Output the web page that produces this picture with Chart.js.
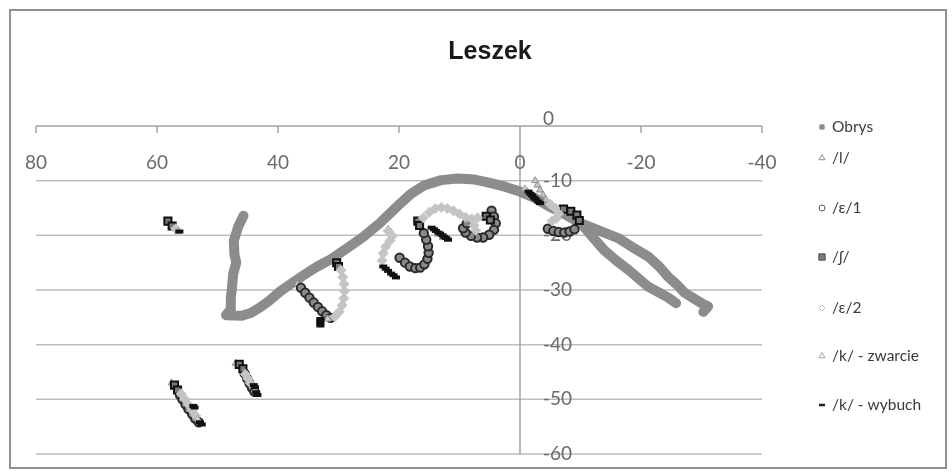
<!DOCTYPE html>
<html>
<head>
<meta charset="utf-8">
<script src="https://cdn.jsdelivr.net/npm/chart.js@4.4.1/dist/chart.umd.min.js"></script>
<style>
  body { margin: 0; background: #fff; }
  #wrap { width: 952px; height: 472px; position: relative; }
</style>
</head>
<body>
<div id="wrap"><canvas id="chart"></canvas></div>
<script>
// tick labels
const xTicks = [80, 60, 40, 20, 0, -20, -40];
const yTicks = [0, -10, -20, -30, -40, -50, -60];

// palate outline (null = break between the two back branches)
const obrys = [
  [45.7, -16.4], [46.6, -18.5], [47.3, -21.0], [47.2, -23.5], [46.9, -25.0], [47.4, -27.0],
  [47.6, -29.5], [47.8, -31.5], [47.8, -33.5], [48.6, -34.6], [46.0, -34.7], [44.5, -34.2],
  [43.0, -33.2], [41.5, -32.0], [39.6, -30.2], [37.5, -28.6], [35.5, -27.1], [33.5, -25.7],
  [31.3, -24.4], [28.5, -22.3], [25.8, -20.2], [23.0, -17.6], [20.2, -14.6], [18.0, -12.4],
  [15.9, -10.9], [13.0, -9.9], [10.3, -9.6], [7.5, -9.8], [5.3, -10.3], [2.5, -11.1],
  [0.0, -12.0], [-2.5, -13.2], [-4.6, -14.6], [-7.5, -16.2], [-10.1, -17.8], [-12.0, -20.3],
  [-13.9, -22.7], [-15.9, -24.6], [-17.9, -26.3], [-19.6, -27.9], [-21.2, -29.4], [-23.0, -30.5],
  [-24.5, -31.4], [-25.8, -32.4],
  null,
  [-10.1, -17.8], [-13.0, -19.1], [-16.2, -20.5], [-18.8, -22.3], [-21.2, -23.9], [-23.0, -25.7],
  [-24.5, -27.6], [-26.0, -29.1], [-27.2, -30.5], [-28.8, -31.6], [-30.0, -32.4], [-31.1, -33.0],
  [-30.3, -34.0]
];

const l = [
  [36.8, -28.9], [36.4, -29.4], [21.8, -18.9], [21.3, -19.5], [-2.5, -10.0], [-2.9, -10.8],
  [-3.3, -11.7], [-3.8, -12.6], [-4.3, -13.5], [57.9, -17.6], [47.0, -43.4], [57.6, -47.0]
];

const eps1 = [
  [36.2, -29.6], [35.5, -30.5], [34.8, -31.4], [34.1, -32.3], [33.4, -33.1], [32.7, -33.9],
  [32.0, -34.6], [31.3, -35.1],
  [19.9, -24.1], [19.0, -25.0], [18.2, -25.7], [17.3, -26.0], [16.5, -25.9], [15.8, -25.3],
  [15.3, -24.3], [15.1, -23.2], [15.2, -22.0], [15.5, -20.8], [15.9, -19.6],
  [4.7, -15.5], [4.3, -16.6], [4.0, -17.8], [4.3, -19.0], [5.1, -19.9], [6.1, -20.4],
  [7.1, -20.4], [8.1, -20.1], [9.0, -19.5], [9.4, -18.7], [8.8, -17.8],
  [-4.6, -18.8], [-5.5, -19.2], [-6.4, -19.4], [-7.3, -19.5], [-8.2, -19.3], [-9.0, -18.9],
  [56.2, -49.2], [55.8, -50.0], [55.3, -50.9], [54.8, -51.8], [54.2, -52.7], [53.7, -53.5],
  [53.1, -54.2],
  [45.5, -45.3], [45.1, -46.2], [44.7, -47.1], [44.3, -47.9], [43.9, -48.6]
];

const sz = [
  [58.2, -17.4], [57.5, -18.3], [30.3, -25.0], [30.0, -25.7], [16.9, -17.4], [16.6, -18.2],
  [5.6, -16.5], [4.9, -17.2], [-7.2, -15.2], [-8.4, -15.6], [-9.4, -16.3], [-9.8, -17.3],
  [57.1, -47.4], [56.6, -48.3], [46.4, -43.6], [45.8, -44.4]
];

const eps2 = [
  [29.6, -26.4], [29.3, -27.6], [29.1, -28.9], [29.0, -30.2], [29.1, -31.5], [29.4, -32.8],
  [29.9, -34.0], [30.6, -34.9],
  [21.8, -19.2], [21.1, -20.1], [21.5, -21.0], [22.2, -22.1], [22.6, -23.3], [22.8, -24.6],
  [16.0, -16.8], [15.0, -15.8], [14.0, -15.1], [13.0, -14.9], [12.0, -15.1], [11.0, -15.5],
  [10.0, -16.1], [9.0, -16.7], [8.0, -17.0], [7.0, -16.8], [7.6, -18.2], [7.3, -19.1],
  [-5.0, -14.3], [-5.8, -15.0], [-6.4, -16.0], [-6.0, -16.9], [-5.3, -17.4],
  [56.9, -18.8],
  [56.0, -49.0], [55.4, -50.0], [54.8, -51.0], [54.2, -52.0], [53.6, -53.0],
  [45.4, -45.4], [45.0, -46.2], [44.6, -47.0]
];

const kZwarcie = [
  [31.8, -35.3], [12.8, -20.4], [13.6, -19.8], [-0.8, -11.5], [-1.2, -12.0], [53.3, -53.6],
  [43.8, -48.2], [56.5, -19.3]
];

const kWybuch = [
  [33.0, -35.3], [33.0, -35.7], [33.0, -36.1], [33.0, -36.5],
  [22.6, -25.7], [22.2, -26.1], [21.8, -26.5], [21.3, -27.0], [20.9, -27.3], [20.5, -27.7],
  [14.6, -18.6], [14.2, -18.9], [13.9, -19.2], [13.5, -19.5], [13.2, -19.7], [12.8, -20.0],
  [12.5, -20.3], [12.2, -20.5], [11.9, -20.8],
  [-1.4, -12.0], [-1.7, -12.4], [-2.0, -12.7], [-2.3, -13.1], [-2.6, -13.4], [-3.0, -13.8],
  [-3.3, -14.1],
  [54.0, -51.2], [53.8, -51.5], [52.9, -54.2], [52.6, -54.6],
  [44.0, -47.4], [43.8, -47.8], [43.6, -48.7], [43.4, -49.2],
  [56.3, -19.3]
];

const pts = arr => arr.map(p => p ? { x: p[0], y: p[1] } : { x: null, y: null });

const legendY = [127, 158, 208, 257, 308, 356, 405];

const overlay = {
  id: 'overlay',
  beforeDatasetsDraw(chart) {
    const { ctx, chartArea: a } = chart;
    const x = chart.scales.x, y = chart.scales.y;
    ctx.save();

    // frame
    ctx.strokeStyle = '#8f8f8f';
    ctx.lineWidth = 2;
    ctx.strokeRect(10, 10, 936, 458);

    // title
    ctx.fillStyle = '#1a1a1a';
    ctx.font = 'bold 25px "Liberation Sans", Arial';
    ctx.textAlign = 'center';
    ctx.textBaseline = 'alphabetic';
    ctx.fillText('Leszek', 490, 59);

    // horizontal gridlines
    ctx.strokeStyle = '#bdbdbd';
    ctx.lineWidth = 1.5;
    yTicks.forEach(v => {
      if (v === 0) return;
      const py = y.getPixelForValue(v);
      ctx.beginPath();
      ctx.moveTo(a.left, py);
      ctx.lineTo(a.right, py);
      ctx.stroke();
    });

    // axes crossing at 0
    const y0 = y.getPixelForValue(0);
    const x0 = x.getPixelForValue(0);
    ctx.strokeStyle = '#a3a3a3';
    ctx.beginPath();
    ctx.moveTo(a.left, y0);
    ctx.lineTo(a.right, y0);
    xTicks.forEach(v => {
      const px = x.getPixelForValue(v);
      ctx.moveTo(px, y0);
      ctx.lineTo(px, y0 + 7);
    });
    ctx.moveTo(x0, y0);
    ctx.lineTo(x0, a.bottom);
    ctx.stroke();

    // tick labels
    ctx.fillStyle = '#6a6a6a';
    ctx.font = '19px Lato, "Open Sans", sans-serif';
    ctx.textAlign = 'center';
    ctx.textBaseline = 'middle';
    xTicks.forEach(v => ctx.fillText(String(v), x.getPixelForValue(v), y0 + 37));
    ctx.textAlign = 'left';
    yTicks.forEach(v => {
      const py = y.getPixelForValue(v) - (v === 0 ? 7 : 0);
      ctx.fillText(String(v), x0 + 23, py);
    });

    ctx.restore();
  },
  afterDraw(chart) {
    const ctx = chart.ctx;
    ctx.save();
    ctx.font = '15.5px Lato, "Open Sans", sans-serif';
    ctx.textAlign = 'left';
    ctx.textBaseline = 'middle';
    chart.data.datasets.forEach((ds, i) => {
      const ly = legendY[i];
      ctx.fillStyle = ds.legendFill || ds.pointBackgroundColor;
      ctx.strokeStyle = ds.legendStroke || ds.pointBorderColor;
      ctx.lineWidth = ds.legendWidth || 1;
      Chart.helpers.drawPoint(ctx, {
        pointStyle: ds.pointStyle,
        radius: ds.legendRadius,
        rotation: 0,
        borderWidth: ds.legendWidth || 1
      }, 822, ly);
      ctx.fillStyle = '#3a3a3a';
      ctx.fillText(ds.label, 832, ly);
    });
    ctx.restore();
  }
};

new Chart(document.getElementById('chart'), {
  type: 'scatter',
  data: {
    datasets: [
      {
        label: 'Obrys', data: pts(obrys), showLine: true, spanGaps: false,
        borderColor: '#8c8c8c', borderWidth: 10, borderCapStyle: 'round', borderJoinStyle: 'round',
        pointRadius: 0, pointStyle: 'rect', pointBackgroundColor: '#8c8c8c', pointBorderColor: '#8c8c8c',
        legendRadius: 3, order: 7
      },
      {
        label: '/l/', data: pts(l), pointStyle: 'triangle', pointRadius: 4, pointBorderWidth: 1,
        pointBackgroundColor: '#c6c6c6', pointBorderColor: '#8e8e8e',
        legendFill: '#ffffff', legendRadius: 3.5, order: 6
      },
      {
        label: '/ε/1', data: pts(eps1), pointStyle: 'circle', pointRadius: 4.2, pointBorderWidth: 2,
        pointBackgroundColor: '#8a8a8a', pointBorderColor: '#2a2a2a',
        legendFill: '#ffffff', legendStroke: '#555', legendRadius: 3, order: 5
      },
      {
        label: '/ʃ/', data: pts(sz), pointStyle: 'rect', pointRadius: 5, pointBorderWidth: 2,
        pointBackgroundColor: '#7a7a7a', pointBorderColor: '#111111',
        legendStroke: '#555', legendRadius: 4.5, order: 4
      },
      {
        label: '/ε/2', data: pts(eps2), pointStyle: 'rectRot', pointRadius: 5.5, pointBorderWidth: 0,
        pointBackgroundColor: '#c4c4c4', pointBorderColor: '#c4c4c4',
        legendFill: '#ffffff', legendStroke: '#c4c4c4', legendRadius: 3, order: 3
      },
      {
        label: '/k/ - zwarcie', data: pts(kZwarcie), pointStyle: 'triangle', pointRadius: 4, pointBorderWidth: 1,
        pointBackgroundColor: '#d4d4d4', pointBorderColor: '#a0a0a0',
        legendFill: '#ffffff', legendRadius: 3.5, order: 2
      },
      {
        label: '/k/ - wybuch', data: pts(kWybuch), pointStyle: 'line', pointRadius: 4, pointBorderWidth: 4,
        pointBackgroundColor: '#111111', pointBorderColor: '#111111',
        legendStroke: '#222', legendWidth: 2.5, legendRadius: 3, order: 1
      }
    ]
  },
  options: {
    responsive: true,
    maintainAspectRatio: false,
    animation: false,
    layout: { padding: { left: 36, right: 190, top: 126, bottom: 18 } },
    scales: {
      x: { type: 'linear', min: -40, max: 80, reverse: true, display: false },
      y: { type: 'linear', min: -60, max: 0, display: false }
    },
    plugins: {
      legend: { display: false },
      title: { display: false },
      tooltip: { enabled: false }
    }
  },
  plugins: [overlay]
});
</script>
</body>
</html>
